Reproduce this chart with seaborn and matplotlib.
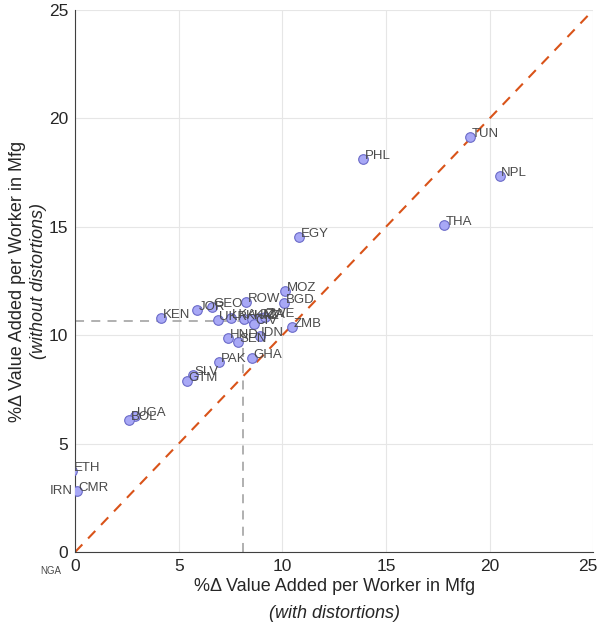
import pandas as pd
import seaborn as sns
import matplotlib.pyplot as plt
import matplotlib.transforms as mtrans

sns.set_theme(style='white')
plt.rcParams['font.family'] = ['Liberation Sans', 'DejaVu Sans']

countries = ['TUN', 'PHL', 'NPL', 'THA', 'EGY', 'MOZ', 'BGD', 'ROW', 'GEO', 'JOR',
             'KEN', 'UKR', 'LKA', 'KHM', 'KAZ', 'TZA', 'ZWE', 'CIV', 'HND', 'SEN',
             'IDN', 'ZMB', 'GHA', 'PAK', 'SLV', 'GTM', 'UGA', 'BOL', 'CMR', 'ETH', 'NGA']
with_dist = [19.06, 13.9, 20.5, 17.8, 10.81, 10.13, 10.09, 8.25, 6.6, 5.9,
             4.15, 6.9, 7.5, 8.15, 8.55, 8.9, 9.15, 8.65, 7.4, 7.85,
             8.9, 10.47, 8.54, 6.95, 5.7, 5.4, 2.9, 2.6, 0.1, -0.15, -0.6]
without_dist = [19.14, 18.13, 17.34, 15.08, 14.53, 12.04, 11.49, 11.53, 11.3, 11.16,
                10.79, 10.7, 10.8, 10.75, 10.75, 10.8, 10.85, 10.5, 9.85, 9.7,
                9.95, 10.4, 8.95, 8.76, 8.15, 7.9, 6.27, 6.1, 2.81, 3.74, -0.6]
mean_with = 8.1
mean_without = 10.65

df = pd.DataFrame({'country': countries, 'with': with_dist, 'without': without_dist})

fig = plt.figure(figsize=(6.01, 6.29), dpi=100)
ax = fig.add_axes([0.125, 0.1224, 0.862, 0.8616])

ax.set_xlim(0, 25)
ax.set_ylim(0, 25)
ticks = [0, 5, 10, 15, 20, 25]
ax.set_xticks(ticks)
ax.set_yticks(ticks)
ax.grid(True, color='#e6e6e6', linewidth=0.8)
ax.set_axisbelow(True)

# 45 degree line and the mean guides
ax.plot([0, 25], [0, 25], linestyle=(0, (5, 4)), color='#D95319', linewidth=1.5, zorder=2)
ax.plot([0, mean_with], [mean_without, mean_without], linestyle=(0, (5, 4)),
        color='#aaaaaa', linewidth=1.3, zorder=2)
ax.plot([mean_with, mean_with], [0, mean_without], linestyle=(0, (5, 4)),
        color='#aaaaaa', linewidth=1.3, zorder=2)

sns.scatterplot(data=df, x='with', y='without', ax=ax, s=48, color='#a8a8f6',
                edgecolor='#6a6ac8', linewidth=0.8, zorder=3, legend=False)

for c, x, y in zip(countries, with_dist, without_dist):
    if c == 'NGA':
        ax.annotate(c, (x, y), xytext=(-1, -4), textcoords='offset points', ha='right',
                    va='center', fontsize=7, color='#4a4a4a', annotation_clip=False)
    else:
        ax.annotate(c, (x, y), xytext=(1, 0), textcoords='offset points', ha='left',
                    va='baseline', fontsize=9.5, color='#4a4a4a', annotation_clip=False)
ax.annotate('IRN', (0.1, 2.81), xytext=(-3, 0), textcoords='offset points', ha='right',
            va='center', fontsize=9.5, color='#4a4a4a', annotation_clip=False)

for side in ['top', 'right']:
    ax.spines[side].set_visible(False)
for side in ['left', 'bottom']:
    ax.spines[side].set_color('#404040')
    ax.spines[side].set_linewidth(0.8)
ax.tick_params(direction='in', length=4, width=0.8, color='#404040',
               labelsize=12.5, labelcolor='#262626', pad=5)
# nudge the last x tick label so it stays inside the figure
last = ax.get_xticklabels()[-1]
last.set_transform(last.get_transform() + mtrans.ScaledTranslation(-4 / 72, 0, fig.dpi_scale_trans))
ax.set_xlabel('')
ax.set_ylabel('')

ax.text(0.5, -0.064, '%\u0394 Value Added per Worker in Mfg', transform=ax.transAxes,
        ha='center', va='center', fontsize=13, color='#262626')
ax.text(0.5, -0.113, '(with distortions)', transform=ax.transAxes, ha='center',
        va='center', fontsize=13, color='#262626', style='italic')
ax.text(-0.112, 0.5, '%\u0394 Value Added per Worker in Mfg', transform=ax.transAxes,
        ha='center', va='center', rotation=90, fontsize=13, color='#262626')
ax.text(-0.070, 0.5, '(without distortions)', transform=ax.transAxes, ha='center',
        va='center', rotation=90, fontsize=13, color='#262626', style='italic')

fig.savefig('out.png', dpi=100)
